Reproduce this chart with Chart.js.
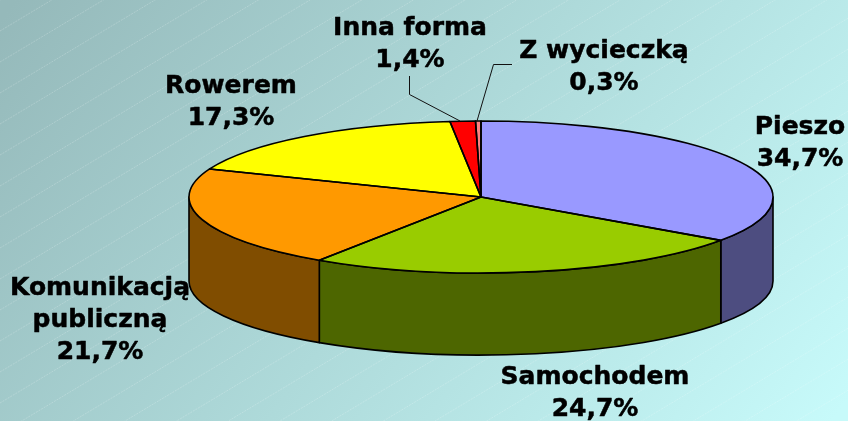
<!DOCTYPE html>
<html><head><meta charset="utf-8">
<style>html,body{margin:0;padding:0;background:#b0dcdc}canvas{display:block}</style>
<script src="https://cdn.jsdelivr.net/npm/chart.js@4"></script>
</head><body><canvas id="c" width="848" height="421"></canvas>
<script>
const categories = ['Pieszo','Samochodem','Komunikacją publiczną','Rowerem','Inna forma','Z wycieczką'];
const shares = [34.7,24.7,21.7,17.3,1.4,0.3];
const shareLabels = ['34,7%','24,7%','21,7%','17,3%','1,4%','0,3%'];
const topColors = ['#9999FF','#99CC00','#FF9900','#FFFF00','#FF0000','#FF8080'];
const sideColors = ['#4D4D80','#4D6600','#804D00','#808000','#800000','#804040'];
const labelLines = [['Pieszo'],['Samochodem'],['Komunikacją','publiczną'],['Rowerem'],['Inna forma'],['Z wycieczką']];
const labelPos = [[800,127],[595,377],[100,288],[231,86],[410,28],[604,51]];
const leaders = [null,null,null,null,[[409.5,76],[409.5,94.5],[460,121]],[[512,64.5],[493.5,64.5],[477,121]]];
const CX=481, CY=197, RX=292, RY=76, DEPTH=84, RY2=74, LH=32;

function setT(ctx,arc){
  const r=arc.outerRadius;
  ctx.translate(CX,CY); ctx.scale(RX/r,RY/r); ctx.translate(-arc.x,-arc.y);
}
const pie3d={
  id:'pie3d',
  beforeDraw(chart){
    const ctx=chart.ctx,W=chart.width,H=chart.height;
    const g=ctx.createLinearGradient(60,-60,W-60,H+60);
    g.addColorStop(0,'#95B9BA'); g.addColorStop(0.5,'#AEDADA'); g.addColorStop(1,'#C7FAFA');
    ctx.save(); ctx.fillStyle=g; ctx.fillRect(0,0,W,H);
    ctx.strokeStyle='rgba(255,255,255,0.2)'; ctx.lineWidth=1; ctx.setLineDash([2,1]);
    for(let b=-8;b<40;b++){
      const y0=b*31;
      ctx.beginPath(); ctx.moveTo(0,y0); ctx.lineTo(W,y0-W*0.6); ctx.stroke();
    }
    ctx.restore();
  },
  beforeDatasetsDraw(chart){
    const ctx=chart.ctx, arcs=chart.getDatasetMeta(0).data;
    ctx.save();
    ctx.lineWidth=1.6; ctx.strokeStyle='#000'; ctx.lineJoin='round';
    arcs.forEach((arc,i)=>{
      let a1=arc.startAngle,a2=arc.endAngle;
      if(a1<0)a1=Math.max(a1,0);
      a2=Math.min(a2,Math.PI);
      if(a2<=a1) return;
      ctx.beginPath();
      ctx.ellipse(CX,CY,RX,RY,0,a1,a2);
      ctx.ellipse(CX,CY+DEPTH,RX,RY2,0,a2,a1,true);
      ctx.closePath();
      ctx.fillStyle=sideColors[i]; ctx.fill(); ctx.stroke();
    });
    ctx.restore();
    ctx.save();
    setT(ctx,arcs[0]);
  },
  afterDatasetsDraw(chart){
    const ctx=chart.ctx, arcs=chart.getDatasetMeta(0).data;
    ctx.restore();
    ctx.save();
    ctx.lineWidth=1.6; ctx.strokeStyle='#000'; ctx.lineJoin='round';
    arcs.forEach(arc=>{
      ctx.beginPath();
      ctx.moveTo(CX,CY);
      ctx.ellipse(CX,CY,RX,RY,0,arc.startAngle,arc.endAngle);
      ctx.closePath(); ctx.stroke();
    });
    ctx.lineWidth=1; ctx.strokeStyle='#111';
    leaders.forEach(l=>{ if(!l)return;
      ctx.beginPath(); l.forEach((p,j)=>j?ctx.lineTo(p[0],p[1]):ctx.moveTo(p[0],p[1])); ctx.stroke();
    });
    ctx.fillStyle='#000'; ctx.strokeStyle='#000'; ctx.lineWidth=0.5; ctx.textAlign='center'; ctx.textBaseline='middle';
    ctx.font='bold 25px "DejaVu Sans"';
    categories.forEach((c,i)=>{
      const [x,y]=labelPos[i];
      const lines=labelLines[i].concat(shareLabels[i]);
      lines.forEach((t,j)=>{ctx.fillText(t,x,y+j*LH);ctx.strokeText(t,x,y+j*LH);});
    });
    ctx.restore();
  }
};
new Chart(document.getElementById('c'),{
  type:'pie',
  data:{labels:categories,datasets:[{data:shares,backgroundColor:topColors,borderWidth:0}]},
  options:{responsive:false,animation:false,layout:{padding:0},
    plugins:{legend:{display:false},tooltip:{enabled:false},title:{display:false}}},
  plugins:[pie3d]
});
</script></body></html>
